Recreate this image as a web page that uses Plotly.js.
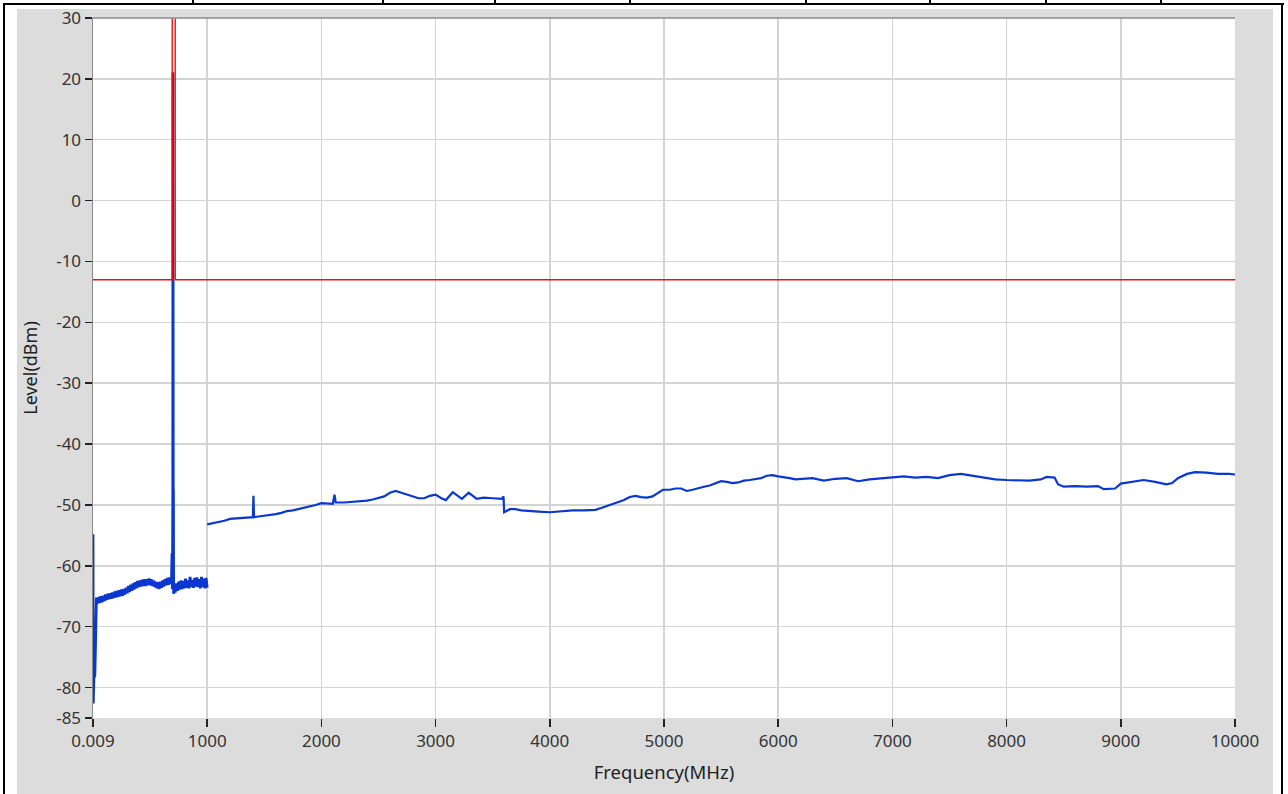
<!DOCTYPE html>
<html>
<head>
<meta charset="utf-8">
<script src="https://cdn.plot.ly/plotly-3.0.1.min.js"></script>
<style>
  html, body { margin: 0; padding: 0; background: #ffffff; width: 1288px; height: 794px; overflow: hidden; }
  .ln { position: absolute; background: #000; }
  #panel { position: absolute; left: 17px; top: 9px; width: 1256px; height: 785px; background: #dcdcdc; }
  #chart { position: absolute; left: 17px; top: 0px; width: 1256px; height: 794px; }
</style>
</head>
<body>
<div class="ln" style="left:3px;top:3px;width:1281px;height:2px;"></div>
<div class="ln" style="left:3px;top:3px;width:2px;height:791px;"></div>
<div class="ln" style="left:1281px;top:3px;width:2px;height:791px;"></div>
<div class="ln" style="left:192px;top:0;width:2px;height:4px;"></div>
<div class="ln" style="left:382px;top:0;width:2px;height:4px;"></div>
<div class="ln" style="left:494px;top:0;width:2px;height:4px;"></div>
<div class="ln" style="left:629px;top:0;width:2px;height:4px;"></div>
<div class="ln" style="left:805px;top:0;width:2px;height:4px;"></div>
<div class="ln" style="left:929px;top:0;width:2px;height:4px;"></div>
<div class="ln" style="left:1045px;top:0;width:2px;height:4px;"></div>
<div class="ln" style="left:1160px;top:0;width:2px;height:4px;"></div>
<div id="panel"></div>
<div id="chart"></div>
<script>
// ---- Data (MHz, dBm) ----
const lowFreq = [0.009, 2, 4, 6, 8, 10, 12, 14, 16, 20, 26,
  30, 40, 50, 60, 70, 80, 90, 100, 110, 120, 130, 140, 150, 160, 170, 180, 190, 200,
  210, 220, 230, 240, 250, 260, 270, 280, 290, 300, 310, 320, 330, 340, 350, 360, 370, 380, 390, 400,
  410, 420, 430, 440, 450, 460, 470, 480, 490, 500, 510, 520, 530, 540, 550, 560, 570, 580, 590, 600,
  610, 620, 630, 640, 650, 660, 670, 680,
  688, 692, 695, 697, 699, 700, 701, 703, 704, 706, 712,
  720, 730, 740, 750, 760, 770, 780, 790, 800, 810, 820, 830, 840, 850, 860, 870, 880, 890, 900,
  910, 920, 930, 940, 950, 960, 970, 980, 990, 1000];
const lowLevel = [-54.8, -82.6, -56.5, -74.0, -78.4, -74.2, -78.3, -74.5, -78.0, -74.6, -66.4,
  -65.2, -66.2, -65.1, -66.1, -65.0, -66.0, -64.9, -65.8, -64.7, -65.6, -64.6, -65.5, -64.5, -65.4, -64.4, -65.3, -64.2, -65.2,
  -64.1, -65.1, -64.0, -65.0, -63.9, -64.9, -63.8, -64.7, -63.6, -64.5, -63.3, -64.3, -63.1, -64.1, -62.9, -63.9, -62.7, -63.7, -62.5, -63.5,
  -62.4, -63.4, -62.3, -63.3, -62.2, -63.3, -62.2, -63.2, -62.1, -63.2, -62.2, -63.3, -62.4, -63.5, -62.6, -63.7, -62.7, -63.8, -62.6, -63.6,
  -62.4, -63.4, -62.2, -63.2, -62.0, -63.1, -61.9, -63.0,
  -62.0, -58.0, -63.8, -57.6, -47.0, 21.1, -47.0, -58.2, -47.5, -64.6, -63.2,
  -64.4, -62.9, -64.1, -62.6, -63.9, -62.4, -63.8, -62.5, -63.7, -62.1, -63.6, -62.4, -63.7, -61.8, -63.5, -62.3, -63.6, -62.0, -63.4,
  -61.9, -63.5, -62.2, -63.7, -61.8, -63.5, -62.1, -63.7, -62.0, -63.6];

const highFreq = [1000, 1050, 1100, 1150, 1200, 1250, 1300, 1350, 1400, 1405, 1410, 1450, 1500, 1550, 1600, 1650,
  1700, 1750, 1800, 1850, 1900, 1950, 2000, 2050, 2100, 2115, 2125, 2200, 2300, 2400, 2450, 2500, 2550, 2600, 2650,
  2700, 2750, 2800, 2850, 2900, 2950, 3000, 3050, 3090, 3150, 3230, 3290, 3360, 3420, 3500, 3580, 3595, 3600,
  3650, 3700, 3750, 3800, 3900, 4000, 4100, 4200, 4300, 4400, 4450, 4500, 4550, 4600, 4650, 4700, 4750, 4800,
  4850, 4900, 4950, 4990, 5050, 5100, 5150, 5200, 5250, 5300, 5350, 5400, 5450, 5500, 5550, 5600, 5650, 5700,
  5750, 5800, 5850, 5900, 5950, 6000, 6050, 6100, 6150, 6200, 6300, 6400, 6500, 6600, 6700, 6800, 6900, 7000,
  7100, 7200, 7300, 7400, 7500, 7600, 7700, 7800, 7900, 8000, 8100, 8200, 8300, 8350, 8420, 8450, 8500, 8600,
  8700, 8800, 8850, 8950, 9000, 9100, 9200, 9300, 9400, 9450, 9500, 9580, 9650, 9750, 9850, 9950, 10000];
const highLevel = [-53.2, -53.0, -52.9, -52.6, -52.3, -52.2, -52.1, -52.0, -52.0, -48.5, -52.0, -51.9, -51.8, -51.6, -51.5, -51.3,
  -51.0, -50.9, -50.7, -50.5, -50.2, -50.0, -49.7, -49.8, -49.8, -48.3, -49.6, -49.6, -49.5, -49.3, -49.1, -48.8, -48.6, -48.0, -47.7,
  -48.0, -48.3, -48.6, -48.9, -48.9, -48.5, -48.3, -48.9, -49.2, -47.9, -49.0, -48.0, -49.0, -48.8, -48.9, -49.0, -48.6, -51.2,
  -50.7, -50.7, -50.9, -51.0, -51.1, -51.2, -51.0, -50.9, -50.9, -50.8, -50.5, -50.2, -49.9, -49.5, -49.2, -48.7, -48.5, -48.7,
  -48.8, -48.6, -48.0, -47.5, -47.5, -47.3, -47.3, -47.7, -47.5, -47.2, -47.0, -46.8, -46.4, -46.1, -46.2, -46.4, -46.3, -46.0,
  -45.9, -45.8, -45.6, -45.2, -45.1, -45.3, -45.4, -45.6, -45.8, -45.7, -45.6, -46.0, -45.7, -45.6, -46.1, -45.8, -45.6, -45.4,
  -45.3, -45.5, -45.4, -45.6, -45.1, -44.9, -45.2, -45.6, -45.8, -45.9, -45.9, -46.0, -45.8, -45.4, -45.5, -46.6, -47.0, -46.9,
  -47.0, -46.9, -47.4, -47.3, -46.5, -46.2, -45.9, -46.2, -46.6, -46.4, -45.6, -44.9, -44.6, -44.7, -44.9, -44.9, -45.0];

const limitFreq = [0.009, 694, 694, 720, 720, 10000];
const limitLevel = [-13, -13, 45, 45, -13, -13];

const xTickVals = [0.009, 1000, 2000, 3000, 4000, 5000, 6000, 7000, 8000, 9000, 10000];
const xTickText = ['0.009', '1000', '2000', '3000', '4000', '5000', '6000', '7000', '8000', '9000', '10000'];
const yTickVals = [30, 20, 10, 0, -10, -20, -30, -40, -50, -60, -70, -80, -85];
const yTickText = ['30', '20', '10', '0', '-10', '-20', '-30', '-40', '-50', '-60', '-70', '-80', '-85'];

const blue = '#0a37cf';
const traces = [
  { x: lowFreq, y: lowLevel, type: 'scatter', mode: 'lines', line: { color: blue, width: 2.8 }, hoverinfo: 'skip' },
  { x: highFreq, y: highLevel, type: 'scatter', mode: 'lines', line: { color: blue, width: 2.2 }, hoverinfo: 'skip' },
  { x: limitFreq, y: limitLevel, type: 'scatter', mode: 'lines', line: { color: '#ee1111', width: 1.4 }, hoverinfo: 'skip' }
];

const fam = 'Noto Sans, DejaVu Sans, sans-serif';
const layout = {
  width: 1256, height: 794,
  margin: { l: 76, r: 38, t: 18, b: 76 },
  paper_bgcolor: 'rgba(0,0,0,0)',
  plot_bgcolor: '#ffffff',
  showlegend: false,
  font: { family: fam, size: 17, color: '#333' },
  xaxis: {
    range: [0.009, 10000],
    tickmode: 'array', tickvals: xTickVals, ticktext: xTickText,
    showgrid: true, gridcolor: '#d4d4d4', gridwidth: 1.5,
    zeroline: false, showline: false,
    ticks: 'outside', ticklen: 8, tickwidth: 1.5, tickcolor: '#222',
    tickfont: { family: fam, size: 17, color: '#333' },
    title: { text: 'Frequency(MHz)', font: { family: fam, size: 18.5, color: '#222' }, standoff: 14 }
  },
  yaxis: {
    range: [-85, 30],
    tickmode: 'array', tickvals: yTickVals, ticktext: yTickText,
    showgrid: true, gridcolor: '#d4d4d4', gridwidth: 1.5,
    zeroline: false, showline: true, linecolor: '#8a8a8a', linewidth: 1.5,
    ticks: 'outside', ticklen: 7, tickwidth: 1.5, tickcolor: '#222',
    tickfont: { family: fam, size: 17, color: '#333' },
    title: { text: 'Level(dBm)', font: { family: fam, size: 18, color: '#222' }, standoff: 14 }
  },
  shapes: [
    { type: 'line', xref: 'paper', yref: 'paper', x0: 0, x1: 1, y0: 1, y1: 1, line: { color: '#8a8a8a', width: 1.5 } }
  ]
};
Plotly.newPlot('chart', traces, layout, { displayModeBar: false, staticPlot: true });
</script>
</body>
</html>
